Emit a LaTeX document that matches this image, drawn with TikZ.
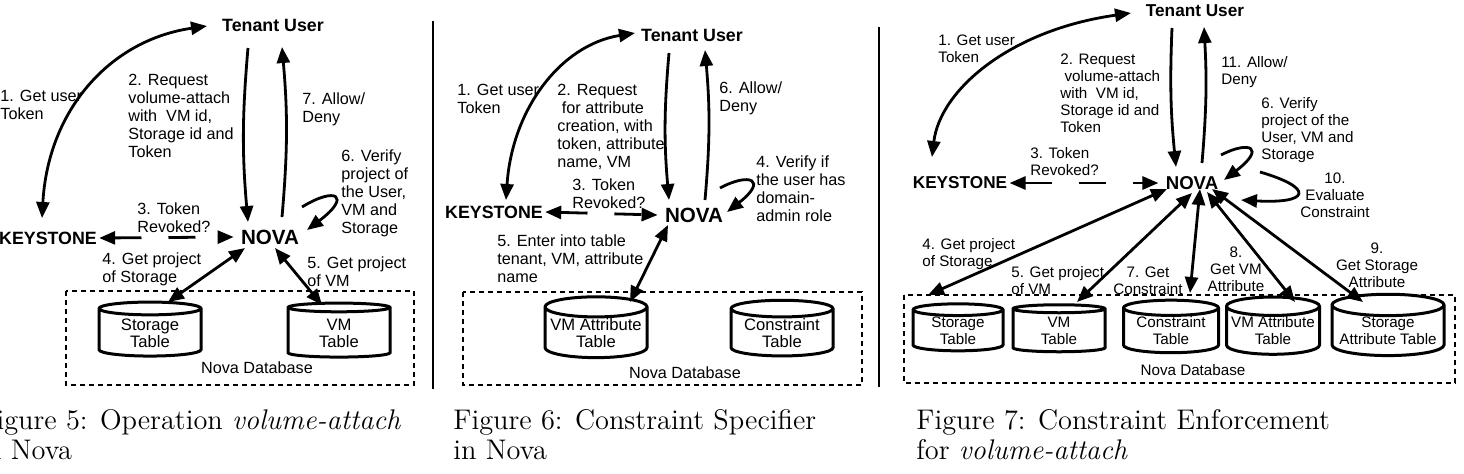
\documentclass[tikz,border=0pt]{standalone}
\usepackage{fontspec}
\setsansfont{Liberation Sans}
\usepackage{tikz}
\usetikzlibrary{arrows.meta,shapes.geometric}

\tikzset{
	ent/.style={font=\sffamily\bfseries\fontsize{8.9}{10}\selectfont,inner sep=1pt},
	ents/.style={ent,font=\sffamily\bfseries\fontsize{8.6}{10}\selectfont},
	hub/.style={font=\sffamily\bfseries\fontsize{10.3}{12}\selectfont,inner sep=3.5pt},
	hubs/.style={hub,font=\sffamily\bfseries\fontsize{9.3}{11}\selectfont},
	lbl/.style={font=\sffamily\fontsize{8.1}{9}\selectfont,align=left,inner sep=0pt,anchor=west},
	lbls/.style={lbl,font=\sffamily\fontsize{7.6}{8.5}\selectfont},
	tbl/.style={cylinder,shape border rotate=90,draw,line width=1.5pt,aspect=0.22,align=center,inner sep=0pt,
		font=\sffamily\fontsize{8.3}{8.5}\selectfont,minimum width=51pt,minimum height=27pt},
	tbls/.style={tbl,font=\sffamily\fontsize{7.6}{8.5}\selectfont,minimum height=23.5pt},
	dbbox/.style={draw,line width=1.2pt,dash pattern=on 2.5pt off 2pt},
	flow/.style={line width=1.4pt,->},
	both/.style={line width=1.4pt,<->},
	tok/.style={both,dash pattern=on 13.5pt off 13.5pt},
	figcap/.style={font=\fontsize{14.2}{15}\selectfont,align=left,inner sep=0pt,anchor=north west}
}

\begin{document}
\begin{tikzpicture}[x=0.5pt,y=-0.5pt,>={Triangle[length=8pt,width=6.5pt]}]
	\useasboundingbox (0,0) rectangle (1464,473);

	\node[ent] (user5) at (273,25) {Tenant User};
	\node[ent] (key5) at (48,238) {KEYSTONE};
	\node[hub] (nova5) at (270,237) {NOVA};
	\node[tbl] (stor5) at (150,333) {Storage\\Table};
	\node[tbl] (vm5) at (339,333) {VM\\Table};
	\draw[dbbox] (66,291) rectangle (414,385);
	\node[lbl,anchor=center] (db5) at (257,368) {Nova Database};

	\node[lbl] (get5) at (0,105) {1. Get user\\Token};
	\node[lbl] (req5) at (128,115.5) {2. Request\\volume-attach\\with\ \ VM id,\\Storage id and\\Token};
	\node[lbl] (allow5) at (302,109.5) {7. Allow/\\Deny};
	\node[lbl] (ver5) at (341,193.5) {6. Verify\\project of\\the User,\\VM and\\Storage};
	\node[lbl] (rev5) at (137,217.5) {3. Token\\Revoked?};
	\node[lbl] (projs5) at (102,269.5) {4. Get project\\of Storage};
	\node[lbl] (projv5) at (307,271.5) {5. Get project\\of VM};

	\draw[both] ([shift={(-6,-20)}]key5.center) .. controls (48,110) and (110,40) .. ([shift={(-66,1)}]user5.center);
	\draw[flow] ([shift={(-25,23)}]user5.center) to[bend right=5] ([shift={(-22,-15)}]nova5.center);
	\draw[flow] ([shift={(12,-20)}]nova5.center) to[bend right=5] ([shift={(9,22)}]user5.center);
	\draw[tok] (key5.east) -- (nova5.west);
	\draw[flow] ([shift={(32,-30)}]nova5.center) .. controls (336,186) and (352,196) .. ([shift={(37,-7)}]nova5.center);
	\draw[both] ([shift={(-25,11)}]nova5.center) -- ([shift={(18,-31)}]stor5.center);
	\draw[both] ([shift={(5,11)}]nova5.center) -- ([shift={(-17,-28)}]vm5.center);

	\node[figcap] (cap5) at (-22,409) {Figure 5: Operation \textit{volume-attach}\\in Nova};

	\draw[line width=1pt] (433,21) -- (433,389);

	\node[ent] (user6) at (692,35) {Tenant User};
	\node[ent] (key6) at (494,212) {KEYSTONE};
	\node[hub] (nova6) at (694,215) {NOVA};
	\node[tbl] (vmat6) at (596,333) {VM Attribute\\Table};
	\node[tbl] (con6) at (782,333) {Constraint\\Table};
	\draw[dbbox] (463,292) rectangle (862,385);
	\node[lbl,anchor=center] (db6) at (685,373) {Nova Database};

	\node[lbl] (get6) at (457,99) {1. Get user\\Token};
	\node[lbl] (req6) at (557,126.5) {2. Request\\\mbox{} for attribute\\creation, with\\token, attribute\\name, VM};
	\node[lbl] (allow6) at (719,98) {6. Allow/\\Deny};
	\node[lbl] (ver6) at (756,189) {4. Verify if\\the user has\\domain-\\admin role};
	\node[lbl] (rev6) at (572,193.5) {3. Token\\Revoked?};
	\node[lbl] (enter6) at (497,259) {5. Enter into table\\tenant, VM, attribute\\name};

	\draw[both] ([shift={(12,-12)}]key6.center) .. controls (512,110) and (560,45) .. ([shift={(-57,-2)}]user6.center);
	\draw[flow] ([shift={(-23,18)}]user6.center) to[bend right=5] ([shift={(-25,-15)}]nova6.center);
	\draw[flow] ([shift={(11,-15)}]nova6.center) to[bend right=5] ([shift={(13,15)}]user6.center);
	\draw[tok] (key6.east) -- (nova6.west);
	\draw[flow] ([shift={(26,-27)}]nova6.center) .. controls (750,172) and (768,180) .. ([shift={(33,-3)}]nova6.center);
	\draw[both] ([shift={(-26,10)}]nova6.center) -- ([shift={(34,-31)}]vmat6.center);

	\node[figcap] (cap6) at (453,409) {Figure 6: Constraint Specifier\\in Nova};

	\draw[line width=1pt] (879,27) -- (879,387);

	\node[ents] (user7) at (1195,11) {Tenant User};
	\node[ents] (key7) at (960,183) {KEYSTONE};
	\node[hubs] (nova7) at (1192,183) {NOVA};
	\node[tbls,minimum width=45pt] (stor7) at (958,331) {Storage\\Table};
	\node[tbls,minimum width=46pt] (vm7) at (1059,331) {VM\\Table};
	\node[tbls,minimum width=47.5pt] (con7) at (1171,331) {Constraint\\Table};
	\node[tbls,minimum width=46.5pt] (vmat7) at (1273,331) {VM Attribute\\Table};
	\node[tbls,minimum width=56pt] (sat7) at (1388,331) {Storage\\Attribute Table};
	\draw[dbbox] (904,295) rectangle (1455,383);
	\node[lbls,anchor=center] (db7) at (1193,370) {Nova Database};

	\node[lbls] (get7) at (938,48.5) {1. Get user\\Token};
	\node[lbls] (req7) at (1060,93) {2. Request\\\mbox{} volume-attach\\with\ \ VM id,\\Storage id and\\Token};
	\node[lbls] (allow7) at (1221,72) {11. Allow/\\Deny};
	\node[lbls] (ver7) at (1261,130.5) {6. Verify\\project of the\\User, VM and\\Storage};
	\node[lbls] (rev7) at (1030,161.5) {3. Token\\Revoked?};
	\node[lbls,align=center,anchor=center] (eval7) at (1335,195) {10.\\Evaluate\\Constraint};
	\node[lbls] (projs7) at (922,254.5) {4. Get project\\of Storage};
	\node[lbls] (projv7) at (1011,280.5) {5. Get project\\of VM};
	\node[lbls,align=center,anchor=center] (getc7) at (1148,281) {7. Get\\Constraint};
	\node[lbls,align=center,anchor=center] (getva7) at (1236,269.5) {8.\\Get VM\\Attribute};
	\node[lbls,align=center,anchor=center] (getsa7) at (1377,265.5) {9.\\Get Storage\\Attribute};

	\draw[both] ([shift={(-28,-26)}]key7.center) .. controls (940,90) and (1010,30) .. ([shift={(-64,2)}]user7.center);
	\draw[flow] ([shift={(-23,17)}]user7.center) to[bend right=4] ([shift={(-16,-16)}]nova7.center);
	\draw[flow] ([shift={(10,-20)}]nova7.center) to[bend right=4] ([shift={(9,16)}]user7.center);
	\draw[tok] (key7.east) -- (nova7.west);
	\draw[flow] ([shift={(29,-28)}]nova7.center) .. controls (1250,140) and (1266,148) .. ([shift={(32,-3)}]nova7.center);
	\draw[flow] ([shift={(68,-11)}]nova7.center) .. controls (1315,188) and (1310,204) .. ([shift={(49,17)}]nova7.center);
	\draw[both] ([shift={(-25,6)}]nova7.center) -- ([shift={(-30,-36)}]stor7.center);
	\draw[both] ([shift={(0,10)}]nova7.center) -- ([shift={(18,-29)}]vm7.center);
	\draw[both] ([shift={(8,6)}]nova7.center) -- ([shift={(19,-38)}]con7.center);
	\draw[both] ([shift={(15,9)}]nova7.center) -- ([shift={(22,-29)}]vmat7.center);
	\draw[both] ([shift={(20,6)}]nova7.center) -- ([shift={(-25,-29)}]sat7.center);

	\node[figcap] (cap7) at (916,409) {Figure 7: Constraint Enforcement\\for \textit{volume-attach}};
\end{tikzpicture}
\end{document}
